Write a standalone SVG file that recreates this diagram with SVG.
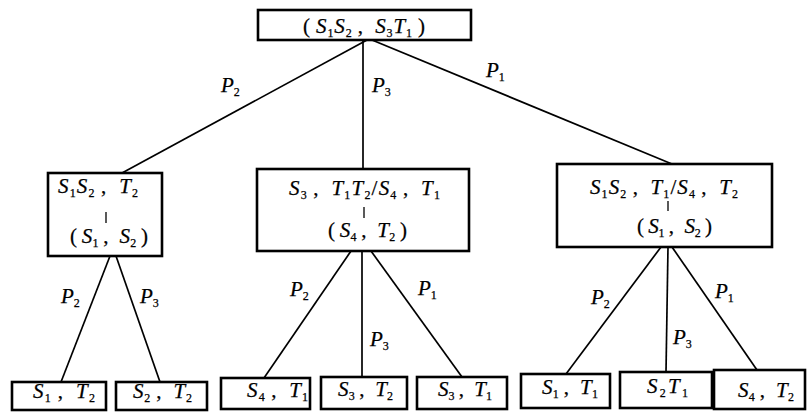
<svg xmlns="http://www.w3.org/2000/svg" width="808" height="412" viewBox="0 0 808 412">
<style>
.box{fill:#fff;stroke:#000;stroke-width:2.6}
.ln{stroke:#000;stroke-width:1.7;fill:none}
.bar{stroke:#000;stroke-width:1.3}
text{font-family:"Liberation Serif","Times New Roman",serif;font-size:21px;font-style:italic;fill:#000;stroke:#000;stroke-width:0.25}
.b{font-size:12px;font-style:normal;baseline-shift:-4px}
.n{font-style:normal}
</style>
<rect width="808" height="412" fill="#fff"/>
<g id="connectors">
<line class="ln" x1="367" y1="40" x2="122" y2="173"/>
<line class="ln" x1="363" y1="40" x2="363" y2="169"/>
<line class="ln" x1="372" y1="40" x2="672" y2="164"/>
<line class="ln" x1="110" y1="256" x2="61" y2="382"/>
<line class="ln" x1="116" y1="256" x2="160" y2="382"/>
<line class="ln" x1="351" y1="251" x2="264" y2="378"/>
<line class="ln" x1="362" y1="251" x2="362" y2="377"/>
<line class="ln" x1="371" y1="251" x2="462" y2="377"/>
<line class="ln" x1="661" y1="247" x2="566" y2="374"/>
<line class="ln" x1="668" y1="247" x2="666" y2="372"/>
<line class="ln" x1="672" y1="247" x2="757" y2="370"/>
<text x="221" y="92">P<tspan class="b">2</tspan></text>
<text x="372" y="92">P<tspan class="b">3</tspan></text>
<text x="486" y="77">P<tspan class="b">1</tspan></text>
<text x="61" y="303">P<tspan class="b">2</tspan></text>
<text x="140" y="303">P<tspan class="b">3</tspan></text>
<text x="290" y="296">P<tspan class="b">2</tspan></text>
<text x="370" y="346">P<tspan class="b">3</tspan></text>
<text x="418" y="295">P<tspan class="b">1</tspan></text>
<text x="591" y="304">P<tspan class="b">2</tspan></text>
<text x="673" y="344">P<tspan class="b">3</tspan></text>
<text x="715" y="298">P<tspan class="b">1</tspan></text>
</g>
<g id="root">
<rect class="box" x="258" y="10" width="213" height="30"/>
<text x="303" y="33" textLength="122" lengthAdjust="spacing"><tspan class="n">(&#8201;</tspan>S<tspan class="b">1</tspan>S<tspan class="b">2</tspan><tspan class="n">&#8201;,&#8194;</tspan>S<tspan class="b">3</tspan>T<tspan class="b">1</tspan><tspan class="n">&#8201;)</tspan></text>
</g>
<g id="mid-left">
<rect class="box" x="48" y="173" width="114" height="83"/>
<text x="58" y="193" textLength="80" lengthAdjust="spacing">S<tspan class="b">1</tspan>S<tspan class="b">2</tspan><tspan class="n">&#8201;,&#8194;</tspan>T<tspan class="b">2</tspan></text>
<line class="bar" x1="106" y1="212" x2="106" y2="223"/>
<text x="70" y="243" textLength="78" lengthAdjust="spacing"><tspan class="n">(&#8201;</tspan>S<tspan class="b">1</tspan><tspan class="n">&#8201;,&#8194;</tspan>S<tspan class="b">2</tspan><tspan class="n">&#8201;)</tspan></text>
</g>
<g id="mid-center">
<rect class="box" x="257" y="169" width="212" height="82"/>
<text x="289" y="195" textLength="151" lengthAdjust="spacing">S<tspan class="b">3</tspan><tspan class="n">&#8201;,&#8194;</tspan>T<tspan class="b">1</tspan>T<tspan class="b">2</tspan><tspan class="n">/</tspan>S<tspan class="b">4</tspan><tspan class="n">&#8201;,&#8194;</tspan>T<tspan class="b">1</tspan></text>
<line class="bar" x1="364" y1="207" x2="364" y2="218"/>
<text x="328" y="237" textLength="79" lengthAdjust="spacing"><tspan class="n">(&#8201;</tspan>S<tspan class="b">4</tspan><tspan class="n">&#8201;,&#8194;</tspan>T<tspan class="b">2</tspan><tspan class="n">&#8201;)</tspan></text>
</g>
<g id="mid-right">
<rect class="box" x="557" y="164" width="215" height="83"/>
<text x="590" y="194" textLength="148" lengthAdjust="spacing">S<tspan class="b">1</tspan>S<tspan class="b">2</tspan><tspan class="n">&#8201;,&#8194;</tspan>T<tspan class="b">1</tspan><tspan class="n">/</tspan>S<tspan class="b">4</tspan><tspan class="n">&#8201;,&#8194;</tspan>T<tspan class="b">2</tspan></text>
<line class="bar" x1="668" y1="201" x2="668" y2="211"/>
<text x="637" y="233" textLength="75" lengthAdjust="spacing"><tspan class="n">(&#8201;</tspan>S<tspan class="b">1</tspan><tspan class="n">&#8201;,&#8194;</tspan>S<tspan class="b">2</tspan><tspan class="n">&#8201;)</tspan></text>
</g>
<g id="leaf1"><rect class="box" x="12" y="382" width="94" height="28"/><text x="33" y="398" textLength="62" lengthAdjust="spacing">S<tspan class="b">1</tspan><tspan class="n">&#8201;,&#8194;</tspan>T<tspan class="b">2</tspan></text></g>
<g id="leaf2"><rect class="box" x="116" y="382" width="91" height="28"/><text x="133" y="398" textLength="59" lengthAdjust="spacing">S<tspan class="b">2</tspan><tspan class="n">&#8201;,&#8194;</tspan>T<tspan class="b">2</tspan></text></g>
<g id="leaf3"><rect class="box" x="221" y="378" width="89" height="31"/><text x="247" y="397" textLength="61" lengthAdjust="spacing">S<tspan class="b">4</tspan><tspan class="n">&#8201;,&#8194;</tspan>T<tspan class="b">1</tspan></text></g>
<g id="leaf4"><rect class="box" x="321" y="377" width="86" height="32"/><text x="338" y="396" textLength="55" lengthAdjust="spacing">S<tspan class="b">3</tspan><tspan class="n">&#8201;,&#8194;</tspan>T<tspan class="b">2</tspan></text></g>
<g id="leaf5"><rect class="box" x="417" y="377" width="90" height="32"/><text x="438" y="396" textLength="54" lengthAdjust="spacing">S<tspan class="b">3</tspan><tspan class="n">&#8201;,&#8194;</tspan>T<tspan class="b">1</tspan></text></g>
<g id="leaf6"><rect class="box" x="521" y="374" width="89" height="34"/><text x="542" y="394" textLength="56" lengthAdjust="spacing">S<tspan class="b">1</tspan><tspan class="n">&#8201;,&#8194;</tspan>T<tspan class="b">1</tspan></text></g>
<g id="leaf7"><rect class="box" x="620" y="372" width="92" height="36"/><text x="647" y="393" textLength="41" lengthAdjust="spacing">S<tspan class="b">2</tspan>T<tspan class="b">1</tspan></text></g>
<g id="leaf8"><rect class="box" x="714" y="370" width="91" height="39"/><text x="738" y="397" textLength="56" lengthAdjust="spacing">S<tspan class="b">4</tspan><tspan class="n">&#8201;,&#8194;</tspan>T<tspan class="b">2</tspan></text></g>
</svg>
